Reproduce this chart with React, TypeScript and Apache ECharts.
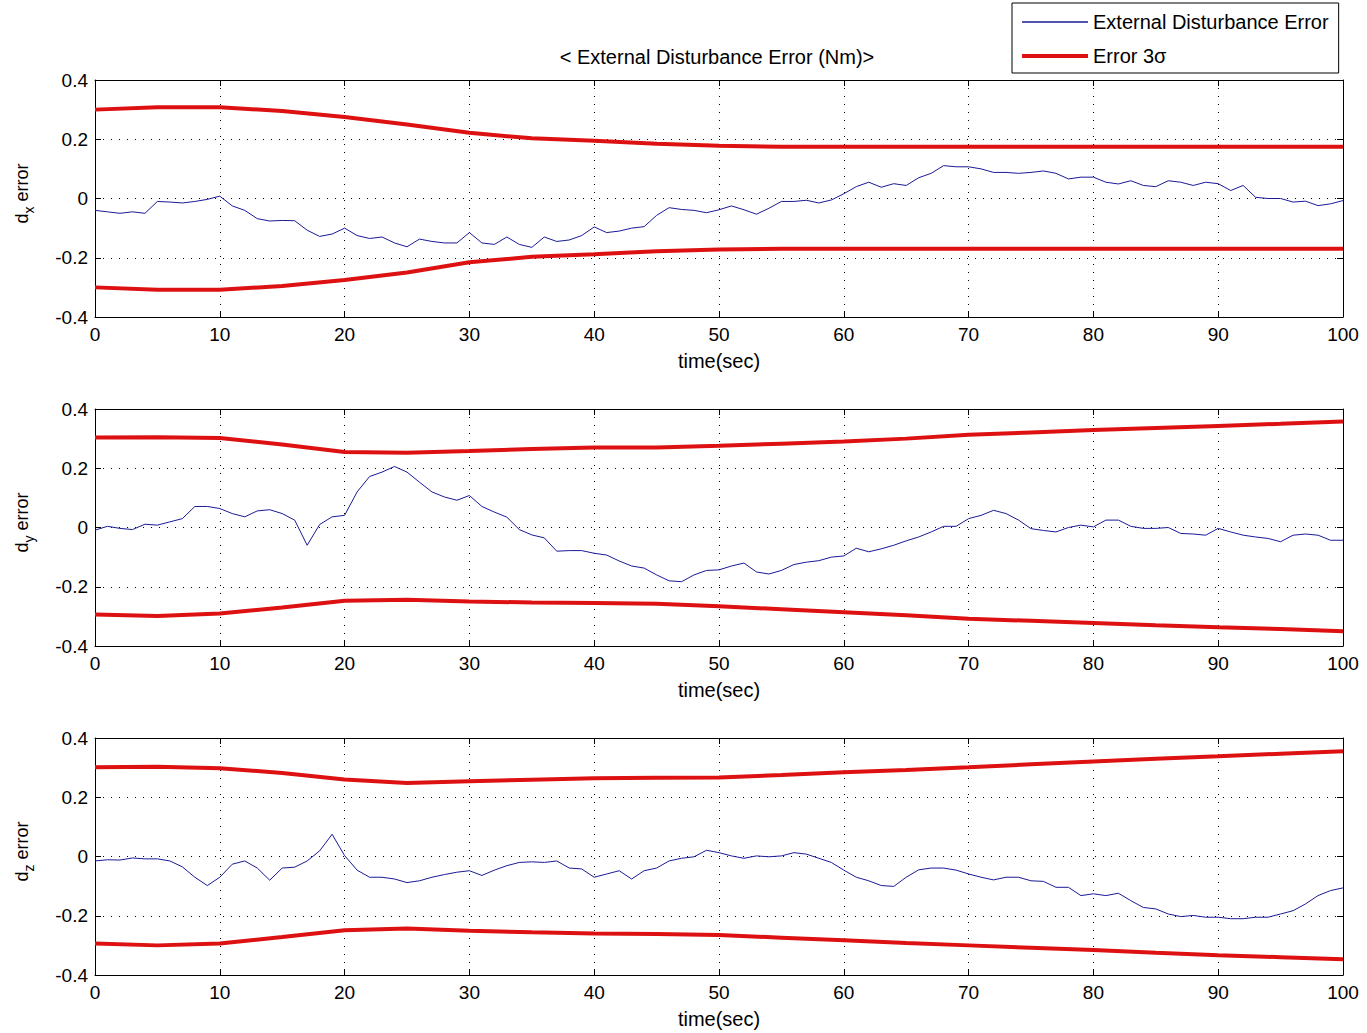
import React, { useEffect, useRef } from "react";
import * as echarts from "echarts";

const FONT = "'Liberation Sans', Arial, sans-serif";

const TITLE = "< External Disturbance Error (Nm)>";
const LEGEND_NAMES = ["External Disturbance Error", "Error 3σ"];
const Y_SUBS = ["x", "y", "z"];
const X_TICKS_MIN = 0;
const X_TICKS_MAX = 100;

// blue error signals, sampled every 1 s (t = index)
const DX = [
  -0.040, -0.045, -0.050, -0.045, -0.050, -0.010, -0.012, -0.015, -0.010, -0.003,
  0.008, -0.025, -0.040, -0.068, -0.076, -0.074, -0.075, -0.107, -0.128, -0.120,
  -0.100, -0.125, -0.135, -0.130, -0.150, -0.163, -0.137, -0.145, -0.150, -0.150,
  -0.115, -0.150, -0.155, -0.130, -0.155, -0.165, -0.130, -0.145, -0.140, -0.125,
  -0.096, -0.115, -0.110, -0.100, -0.095, -0.057, -0.031, -0.037, -0.040, -0.048,
  -0.038, -0.025, -0.038, -0.053, -0.033, -0.010, -0.010, -0.006, -0.015, -0.005,
  0.016, 0.040, 0.055, 0.038, 0.050, 0.044, 0.070, 0.085, 0.111, 0.107,
  0.107, 0.100, 0.088, 0.088, 0.085, 0.088, 0.093, 0.085, 0.066, 0.072,
  0.072, 0.055, 0.049, 0.060, 0.044, 0.040, 0.060, 0.055, 0.044, 0.055,
  0.050, 0.027, 0.044, 0.004, 0.000, 0.000, -0.012, -0.009, -0.024, -0.018,
  -0.007,
];
const DY = [
  -0.009, 0.004, -0.003, -0.007, 0.011, 0.008, 0.019, 0.030, 0.071, 0.071,
  0.064, 0.047, 0.036, 0.056, 0.060, 0.047, 0.025, -0.060, 0.010, 0.036,
  0.041, 0.120, 0.172, 0.187, 0.206, 0.187, 0.153, 0.120, 0.103, 0.092,
  0.108, 0.071, 0.052, 0.035, -0.007, -0.025, -0.035, -0.080, -0.078, -0.078,
  -0.087, -0.093, -0.113, -0.130, -0.137, -0.160, -0.180, -0.183, -0.160, -0.145,
  -0.143, -0.130, -0.120, -0.150, -0.157, -0.145, -0.125, -0.117, -0.112, -0.100,
  -0.096, -0.070, -0.082, -0.072, -0.060, -0.045, -0.032, -0.015, 0.004, 0.004,
  0.030, 0.041, 0.058, 0.047, 0.025, -0.004, -0.010, -0.015, 0.000, 0.008,
  0.002, 0.025, 0.025, 0.004, -0.003, -0.003, 0.000, -0.020, -0.022, -0.026,
  -0.003, -0.015, -0.026, -0.032, -0.037, -0.048, -0.026, -0.022, -0.026, -0.043,
  -0.043,
];
const DZ = [
  -0.015, -0.011, -0.012, -0.005, -0.008, -0.008, -0.015, -0.035, -0.070, -0.098,
  -0.070, -0.026, -0.015, -0.039, -0.080, -0.039, -0.036, -0.015, 0.019, 0.075,
  0.003, -0.046, -0.070, -0.070, -0.076, -0.088, -0.082, -0.070, -0.061, -0.053,
  -0.048, -0.064, -0.046, -0.031, -0.020, -0.018, -0.020, -0.015, -0.039, -0.042,
  -0.070, -0.059, -0.048, -0.076, -0.048, -0.039, -0.015, -0.006, -0.001, 0.021,
  0.013, 0.002, -0.006, 0.002, -0.001, 0.002, 0.013, 0.008, -0.006, -0.020,
  -0.046, -0.070, -0.082, -0.098, -0.101, -0.070, -0.045, -0.039, -0.039, -0.046,
  -0.059, -0.070, -0.079, -0.070, -0.070, -0.082, -0.084, -0.104, -0.104, -0.132,
  -0.126, -0.132, -0.124, -0.149, -0.172, -0.177, -0.194, -0.203, -0.199, -0.205,
  -0.205, -0.210, -0.210, -0.205, -0.205, -0.194, -0.183, -0.160, -0.132, -0.115,
  -0.106,
];

// 3-sigma bounds sampled every 5 s
const BOUND_T = [0, 5, 10, 15, 20, 25, 30, 35, 40, 45, 50, 55, 60, 65, 70, 75, 80, 85, 90, 95, 100];
const UP_X = [0.300, 0.308, 0.308, 0.295, 0.275, 0.250, 0.222, 0.203, 0.195, 0.185, 0.178, 0.175, 0.175, 0.175, 0.175, 0.175, 0.175, 0.175, 0.175, 0.175, 0.175];
const LO_X = [-0.300, -0.308, -0.308, -0.295, -0.275, -0.250, -0.215, -0.197, -0.188, -0.178, -0.172, -0.170, -0.170, -0.170, -0.170, -0.170, -0.170, -0.170, -0.170, -0.170, -0.170];
const UP_Y = [0.304, 0.305, 0.302, 0.280, 0.255, 0.252, 0.258, 0.265, 0.270, 0.270, 0.276, 0.283, 0.290, 0.300, 0.313, 0.321, 0.329, 0.336, 0.343, 0.350, 0.358];
const LO_Y = [-0.294, -0.299, -0.290, -0.270, -0.247, -0.244, -0.250, -0.253, -0.255, -0.257, -0.266, -0.276, -0.286, -0.296, -0.308, -0.315, -0.322, -0.330, -0.337, -0.343, -0.350];
const UP_Z = [0.301, 0.303, 0.298, 0.282, 0.260, 0.248, 0.254, 0.259, 0.264, 0.266, 0.267, 0.275, 0.284, 0.292, 0.301, 0.311, 0.321, 0.330, 0.338, 0.347, 0.355];
const LO_Z = [-0.294, -0.300, -0.294, -0.272, -0.249, -0.243, -0.251, -0.256, -0.260, -0.262, -0.265, -0.274, -0.283, -0.292, -0.300, -0.308, -0.316, -0.325, -0.333, -0.340, -0.347];

const SIGNALS = [DX, DY, DZ];
const UPPERS = [UP_X, UP_Y, UP_Z];
const LOWERS = [LO_X, LO_Y, LO_Z];

const GRID_TOPS = [80, 409, 738];
const GRID_H = 237;
const BLUE = "#1a1a96";
const RED = "#dd1111";

function buildOption() {
  const grids: any[] = [];
  const xAxes: any[] = [];
  const yAxes: any[] = [];
  const series: any[] = [];
  const graphics: any[] = [];

  GRID_TOPS.forEach((top, i) => {
    grids.push({ left: 95, top, width: 1248, height: GRID_H, show: false });
    const axisLine = { show: true, onZero: false, lineStyle: { color: "#000", width: 1 } };
    const tick = { show: true, inside: true, length: 6, lineStyle: { color: "#000", width: 1 } };
    xAxes.push({
      type: "value", gridIndex: i, position: "bottom", min: X_TICKS_MIN, max: X_TICKS_MAX, interval: 10,
      axisLine, axisTick: tick,
      axisLabel: { color: "#000", fontSize: 19, margin: 8, fontFamily: FONT },
      splitLine: { show: true, lineStyle: { color: "#000", type: [1, 7], width: 1 } },
      name: "time(sec)", nameLocation: "middle", nameGap: 34,
      nameTextStyle: { color: "#000", fontSize: 20, fontFamily: FONT },
    });
    xAxes.push({
      type: "value", gridIndex: i, position: "top", min: X_TICKS_MIN, max: X_TICKS_MAX, interval: 10,
      axisLine, axisTick: tick, axisLabel: { show: false }, splitLine: { show: false },
    });
    yAxes.push({
      type: "value", gridIndex: i, position: "left", min: -0.4, max: 0.4, interval: 0.2,
      axisLine, axisTick: tick,
      axisLabel: {
        color: "#000", fontSize: 19, margin: 7, fontFamily: FONT,
        formatter: (v: number) => {
          const r = Math.round(v * 10) / 10;
          return r === 0 ? "0" : String(r);
        },
      },
      splitLine: { show: true, lineStyle: { color: "#000", type: [1, 7], width: 1 } },
    });
    yAxes.push({
      type: "value", gridIndex: i, position: "right", min: -0.4, max: 0.4, interval: 0.2,
      axisLine, axisTick: tick, axisLabel: { show: false }, splitLine: { show: false },
    });

    series.push({
      type: "line", name: LEGEND_NAMES[0], xAxisIndex: 2 * i, yAxisIndex: 2 * i,
      data: SIGNALS[i].map((v, k) => [k, v]),
      symbol: "none", showSymbol: false, lineStyle: { color: BLUE, width: 1 }, itemStyle: { color: BLUE },
      z: 3,
    });
    series.push({
      type: "line", name: LEGEND_NAMES[1], xAxisIndex: 2 * i, yAxisIndex: 2 * i,
      data: UPPERS[i].map((v, k) => [BOUND_T[k], v]),
      symbol: "none", showSymbol: false, lineStyle: { color: RED, width: 4 }, itemStyle: { color: RED },
      z: 4,
    });
    series.push({
      type: "line", name: LEGEND_NAMES[1], xAxisIndex: 2 * i, yAxisIndex: 2 * i,
      data: LOWERS[i].map((v, k) => [BOUND_T[k], v]),
      symbol: "none", showSymbol: false, lineStyle: { color: RED, width: 4 }, itemStyle: { color: RED },
      z: 4,
    });

    const cy = top + GRID_H / 2 - 6;
    graphics.push({
      type: "group", x: 22, y: cy, rotation: Math.PI / 2,
      children: [
        { type: "text", x: -31, y: 0, style: { text: "d", fontSize: 18, fill: "#000", fontFamily: FONT, align: "left", verticalAlign: "middle" } },
        { type: "text", x: -21, y: 7, style: { text: Y_SUBS[i], fontSize: 14, fill: "#000", fontFamily: FONT, align: "left", verticalAlign: "middle" } },
        { type: "text", x: -9, y: 0, style: { text: "error", fontSize: 18, fill: "#000", fontFamily: FONT, align: "left", verticalAlign: "middle" } },
      ],
    });
  });

  graphics.push({
    type: "text", x: 717, y: 57,
    style: { text: TITLE, fontSize: 20, fill: "#000", fontFamily: FONT, align: "center", verticalAlign: "middle" },
  });

  return {
    animation: false,
    backgroundColor: "#fff",
    textStyle: { fontFamily: FONT },
    grid: grids,
    xAxis: xAxes,
    yAxis: yAxes,
    legend: {
      data: [
        { name: LEGEND_NAMES[0], icon: "path://M0,0H66V1.3H0Z" },
        { name: LEGEND_NAMES[1], icon: "path://M0,0H66V4H0Z" },
      ],
      orient: "vertical",
      left: 1012,
      top: 3,
      itemWidth: 66,
      itemHeight: 14,
      itemGap: 14,
      padding: [9, 10, 7, 10],
      borderColor: "#000",
      borderWidth: 1,
      backgroundColor: "#fff",
      textStyle: { fontSize: 20, color: "#000", fontFamily: FONT },
    },
    graphic: graphics,
    series,
  };
}

export default function App() {
  const ref = useRef<HTMLDivElement>(null);
  useEffect(() => {
    document.body.style.margin = "0";
    const chart = echarts.init(ref.current!, null, { renderer: "svg" });
    chart.setOption(buildOption() as any);
    return () => chart.dispose();
  }, []);
  return (
    <div
      ref={ref}
      style={{ position: "absolute", left: 0, top: 0, width: 1367, height: 1033, background: "#fff" }}
    />
  );
}
